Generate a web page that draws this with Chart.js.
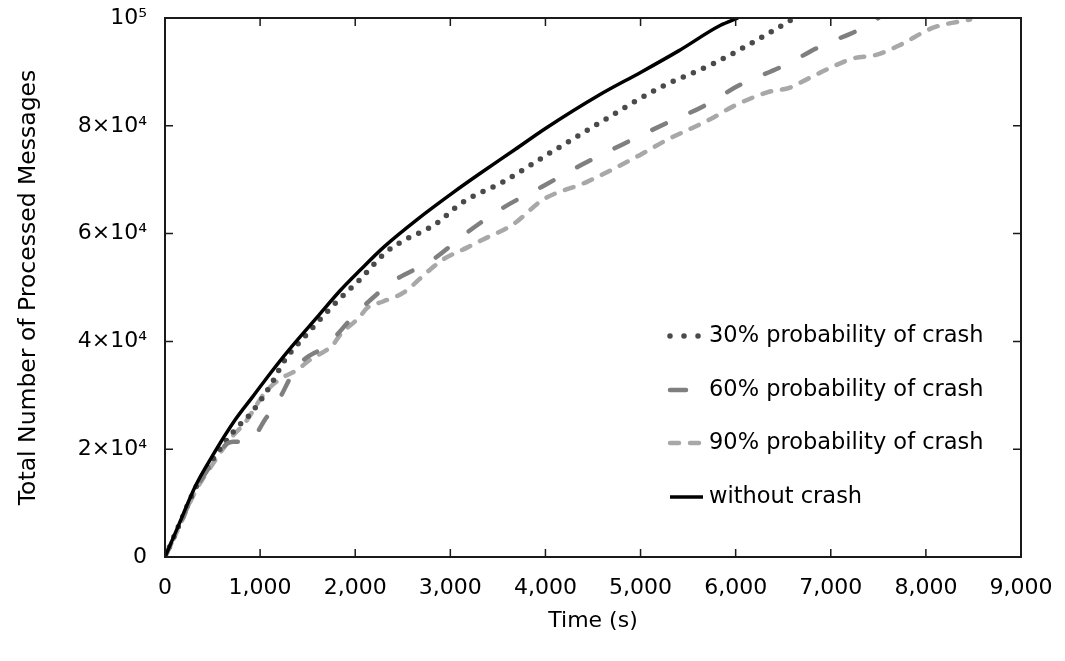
<!DOCTYPE html>
<html>
<head>
<meta charset="utf-8">
<script src="https://cdn.jsdelivr.net/npm/chart.js@4"></script>
<style>
  html, body { margin: 0; padding: 0; background: #fff; }
  #wrap { width: 1065px; height: 661px; }
</style>
</head>
<body>
<div id="wrap"><canvas id="grafico"></canvas></div>
<script>
// ---- datos ----
const xTicks = [0, 1000, 2000, 3000, 4000, 5000, 6000, 7000, 8000, 9000];
const yTicks = [0, 20000, 40000, 60000, 80000, 100000];
const yTickLabels = ['0', '2×10⁴', '4×10⁴', '6×10⁴', '8×10⁴', '10⁵'];

const seriesNames = ['30% probability of crash', '60% probability of crash', '90% probability of crash', 'without crash'];

const time30 = [0, 150, 315, 500, 736, 915, 1125, 1240, 1500, 1808, 2050, 2313, 2487, 2839, 3120, 3555, 4069, 4574, 5205, 5762, 6183, 6620];
const val30  = [0, 6000, 12600, 18000, 23600, 26900, 32300, 36000, 41500, 47400, 51500, 56400, 58500, 61700, 65700, 69600, 75200, 80600, 87100, 91500, 95500, 100000];

const time60 = [0, 150, 315, 500, 650, 715, 873, 1072, 1157, 1388, 1714, 2000, 2387, 2818, 3176, 3555, 3964, 4385, 4805, 5237, 5657, 6046, 6488, 6887, 7340, 7500];
const val60  = [0, 5800, 12300, 17500, 21000, 21400, 21400, 26000, 27900, 35300, 39500, 45000, 51000, 55200, 60200, 64800, 68700, 72800, 76500, 80200, 83600, 87600, 91000, 94700, 98200, 100000];

const time90 = [0, 150, 315, 500, 704, 841, 1051, 1209, 1388, 1525, 1767, 1840, 2050, 2124, 2292, 2503, 2786, 2923, 3176, 3344, 3659, 3975, 4437, 4995, 5279, 5731, 5973, 6330, 6572, 6677, 7024, 7235, 7487, 7729, 8076, 8465];
const val90  = [0, 5600, 12000, 17200, 22300, 24900, 30500, 33000, 34700, 36600, 39400, 41200, 44600, 46200, 47400, 49000, 53300, 55200, 57400, 58900, 61700, 66300, 69600, 74600, 77400, 81200, 83600, 86200, 87100, 88000, 91000, 92500, 93200, 95000, 98200, 99700];

const timeNoCrash = [0, 150, 315, 500, 736, 925, 1104, 1293, 1600, 1840, 2050, 2300, 2650, 3028, 3300, 3680, 4000, 4574, 5000, 5400, 5836, 6025];
const valNoCrash  = [0, 6200, 13000, 18800, 25400, 29800, 34000, 38200, 44500, 49400, 53200, 57500, 62600, 67600, 71000, 75600, 79500, 85800, 89900, 93900, 98600, 100000];

const FONT = 'DejaVu Sans';

function puntos(ts, vs) {
    return ts.map((t, i) => ({ x: t, y: vs[i] }));
}

// leyenda dentro del area y marcas hacia adentro en los cuatro lados
const marcoPlugin = {
    id: 'marco',
    afterDraw(chart) {
        const { ctx, chartArea: a, scales } = chart;
        ctx.save();
        ctx.strokeStyle = '#1a1a1a';
        ctx.lineWidth = 2;
        ctx.strokeRect(a.left, a.top, a.right - a.left, a.bottom - a.top);
        ctx.lineWidth = 1.5;
        ctx.beginPath();
        xTicks.slice(1, -1).forEach(v => {
            const px = scales.x.getPixelForValue(v);
            ctx.moveTo(px, a.bottom); ctx.lineTo(px, a.bottom - 8);
            ctx.moveTo(px, a.top); ctx.lineTo(px, a.top + 8);
        });
        yTicks.slice(1, -1).forEach(v => {
            const py = scales.y.getPixelForValue(v);
            ctx.moveTo(a.left, py); ctx.lineTo(a.left + 8, py);
            ctx.moveTo(a.right, py); ctx.lineTo(a.right - 8, py);
        });
        ctx.stroke();

        // leyenda
        const legendDash = [[0, 14], [16, 40], [9, 11], []];
        const x0 = 670, x1 = 703, rows = [336, 390, 443, 497];
        chart.data.datasets.forEach((ds, i) => {
            ctx.beginPath();
            ctx.strokeStyle = ds.borderColor;
            ctx.lineWidth = ds.borderWidth;
            ctx.lineCap = i === 3 ? 'butt' : 'round';
            ctx.setLineDash(legendDash[i]);
            ctx.moveTo(x0, rows[i]);
            ctx.lineTo(x1, rows[i]);
            ctx.stroke();
            ctx.setLineDash([]);
            ctx.fillStyle = '#000';
            ctx.font = '22.5px "' + FONT + '"';
            ctx.textBaseline = 'middle';
            ctx.textAlign = 'left';
            ctx.fillText(ds.label, 709, rows[i]);
        });
        ctx.restore();
    }
};

new Chart(document.getElementById('grafico').getContext('2d'), {
    type: 'line',
    data: {
        datasets: [
            {
                label: seriesNames[0],
                data: puntos(time30, val30),
                borderColor: '#4a4a4a',
                borderWidth: 5.5,
                borderDash: [0, 11],
                borderCapStyle: 'round',
                order: 3
            },
            {
                label: seriesNames[1],
                data: puntos(time60, val60),
                borderColor: '#7f7f7f',
                borderWidth: 4.5,
                borderDash: [15, 27],
                borderCapStyle: 'round',
                order: 2
            },
            {
                label: seriesNames[2],
                data: puntos(time90, val90),
                borderColor: '#a8a8a8',
                borderWidth: 4.5,
                borderDash: [9, 11],
                borderCapStyle: 'round',
                order: 4
            },
            {
                label: seriesNames[3],
                data: puntos(timeNoCrash, valNoCrash),
                borderColor: '#000000',
                borderWidth: 3.5,
                order: 1
            }
        ]
    },
    options: {
        responsive: true,
        maintainAspectRatio: false,
        animation: false,
        events: [],
        layout: { padding: { left: 15, right: 44, top: 18, bottom: 27 } },
        elements: {
            point: { radius: 0 },
            line: { cubicInterpolationMode: 'monotone', borderJoinStyle: 'round' }
        },
        plugins: {
            legend: { display: false },
            tooltip: { enabled: false }
        },
        scales: {
            x: {
                type: 'linear',
                min: 0,
                max: 9000,
                afterBuildTicks: s => { s.ticks = xTicks.map(v => ({ value: v })); },
                afterFit: s => {
                    s.height = 77;
                    s.paddingLeft = 0;
                    s.paddingRight = 0;
                },
                grid: { display: false, drawTicks: false },
                border: { display: false },
                ticks: {
                    color: '#000',
                    padding: 18,
                    maxRotation: 0,
                    font: { family: FONT, size: 22 },
                    callback: v => v.toLocaleString('en-US')
                },
                title: {
                    display: true,
                    text: 'Time (s)',
                    color: '#000',
                    padding: 0,
                    font: { family: FONT, size: 22 }
                }
            },
            y: {
                type: 'linear',
                min: 0,
                max: 100000,
                afterBuildTicks: s => { s.ticks = yTicks.map(v => ({ value: v })); },
                afterFit: s => {
                    s.width = 150;
                    s.paddingTop = 0;
                    s.paddingBottom = 0;
                },
                grid: { display: false, drawTicks: false },
                border: { display: false },
                ticks: {
                    color: '#000',
                    padding: 18,
                    font: { family: FONT, size: 22 },
                    callback: v => yTickLabels[yTicks.indexOf(v)]
                },
                title: {
                    display: true,
                    text: 'Total Number of Processed Messages',
                    color: '#000',
                    padding: 0,
                    font: { family: FONT, size: 23.5 }
                }
            }
        }
    },
    plugins: [marcoPlugin]
});
</script>
</body>
</html>
